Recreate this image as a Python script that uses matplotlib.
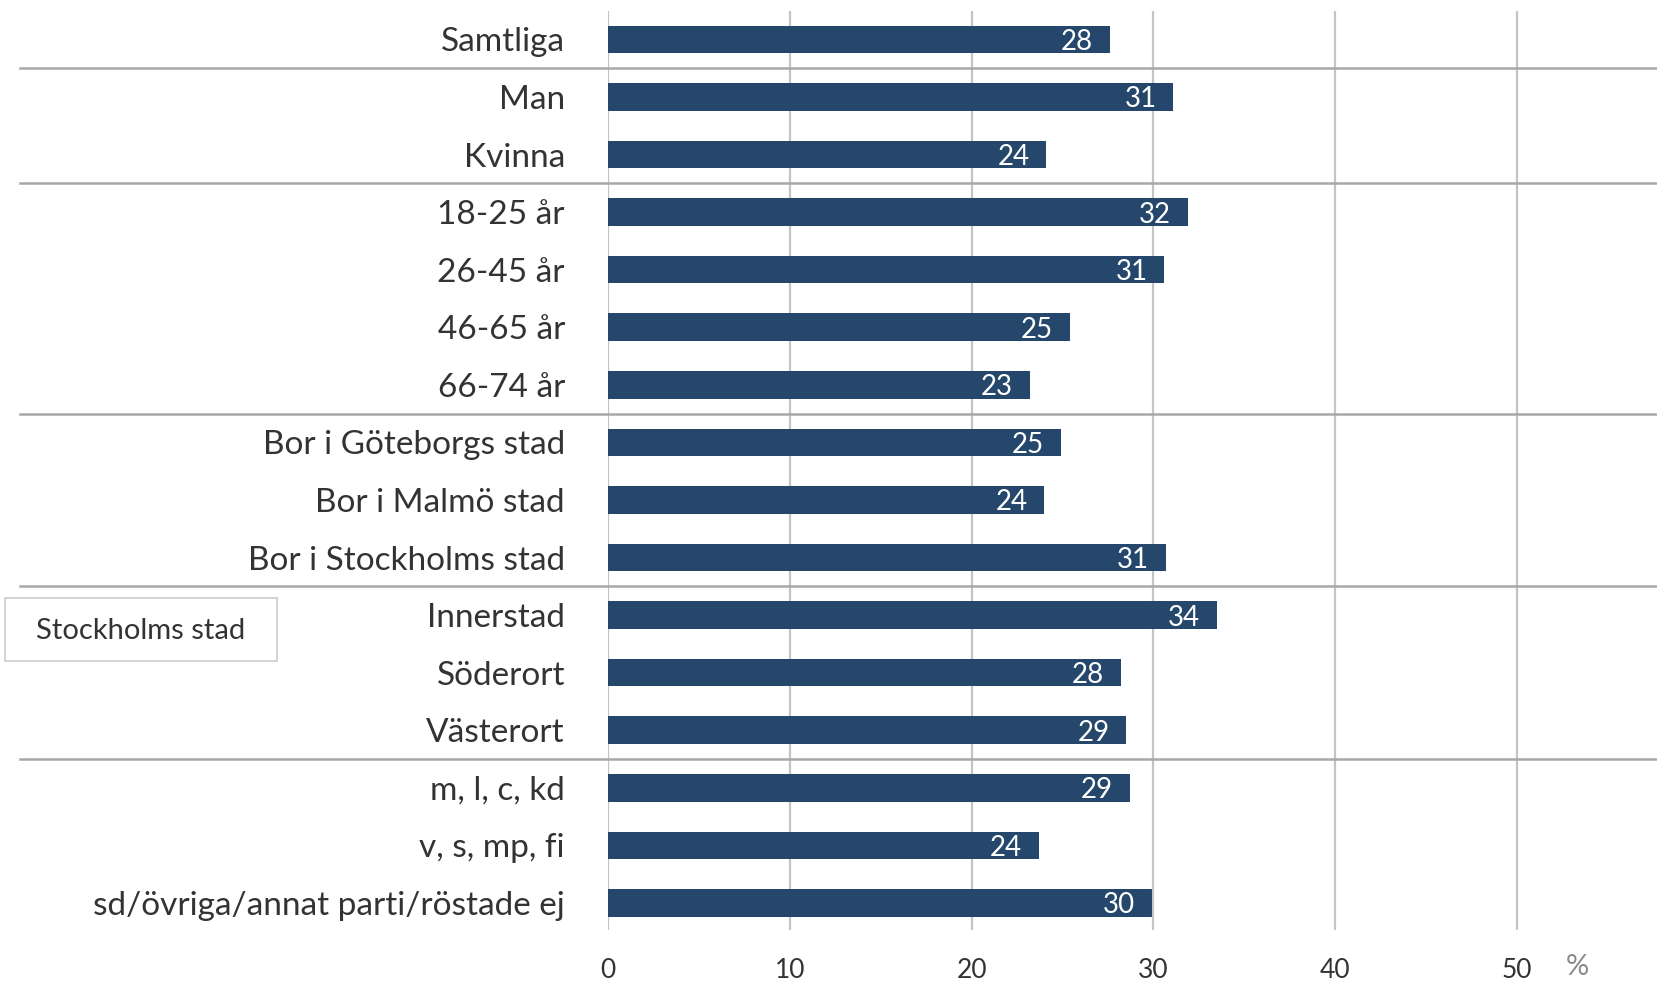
import matplotlib
matplotlib.use("Agg")
import matplotlib.pyplot as plt
from matplotlib.patches import Rectangle
from matplotlib.transforms import blended_transform_factory

categories = ["Samtliga", "Man", "Kvinna", "18-25 år", "26-45 år", "46-65 år", "66-74 år",
              "Bor i Göteborgs stad", "Bor i Malmö stad", "Bor i Stockholms stad",
              "Innerstad", "Söderort", "Västerort",
              "m, l, c, kd", "v, s, mp, fi", "sd/övriga/annat parti/röstade ej"]
values = [27.6, 31.1, 24.1, 31.9, 30.6, 25.4, 23.2, 24.9, 24.0, 30.7, 33.5, 28.2, 28.5, 28.7, 23.7, 29.9]
value_labels = ["28", "31", "24", "32", "31", "25", "23", "25", "24", "31", "34", "28", "29", "29", "24", "30"]
x_ticks = [0, 10, 20, 30, 40, 50]
separators_after = [0, 2, 6, 9, 12]
box_label = "Stockholms stad"

plt.rcParams['font.family'] = ['Lato', 'DejaVu Sans']
W, H = 1658, 981
fig = plt.figure(figsize=(W / 100, H / 100), dpi=100)
ax_left = 608 / W
ax_top = 1 - 10.6 / H
ax_bottom = 51 / H
ax = fig.add_axes([ax_left, ax_bottom, 1 - ax_left, ax_top - ax_bottom])

bar_color = "#24476b"
text_color = "#333333"
ypos = list(range(len(categories)))
ax.barh(ypos, values, height=0.48, color=bar_color, zorder=3)
for y, v, lab in zip(ypos, values, value_labels):
    ax.annotate(lab, (v, y), xytext=(-12, 0), textcoords="offset points",
                ha="right", va="center_baseline", color="white", fontsize=20, zorder=4)

ax.set_xlim(0, (W - 608) / 181.8 * 10)
ax.set_ylim(15.47, -0.5)
ax.set_xticks(x_ticks)
ax.set_xticklabels([str(t) for t in x_ticks])
ax.set_yticks(ypos)
ax.set_yticklabels(categories)
ax.tick_params(axis="y", length=0, pad=31, labelsize=24, labelcolor=text_color)
ax.tick_params(axis="x", length=0, pad=20, labelsize=19, labelcolor=text_color)
for lab in ax.get_yticklabels():
    lab.set_verticalalignment("center_baseline")
for s in ax.spines.values():
    s.set_visible(False)
ax.grid(axis="x", color="#c4c4c4", linewidth=1.6, zorder=0)
ax.grid(axis="y", visible=False)

trans = blended_transform_factory(fig.transFigure, ax.transData)
for i in separators_after:
    ax.plot([20 / W, 1.0], [i + 0.5, i + 0.5], transform=trans, color="#a8a8a8",
            linewidth=1.8, clip_on=False, zorder=2)

fig.text(1492 * 1.0574 / W, 1 - 967 / H, "%", ha="center", va="center",
         fontsize=21, color="#8a8a8a")

fig.patches.append(Rectangle((5 / W, 1 - 661 / H), 272 / W, 63 / H, transform=fig.transFigure,
                             facecolor="white", edgecolor="#cccccc", linewidth=1.2))
fig.text(141 / W, 1 - 631 / H, box_label, ha="center", va="center", fontsize=21, color=text_color)

fig.savefig("out.png", dpi=100)
